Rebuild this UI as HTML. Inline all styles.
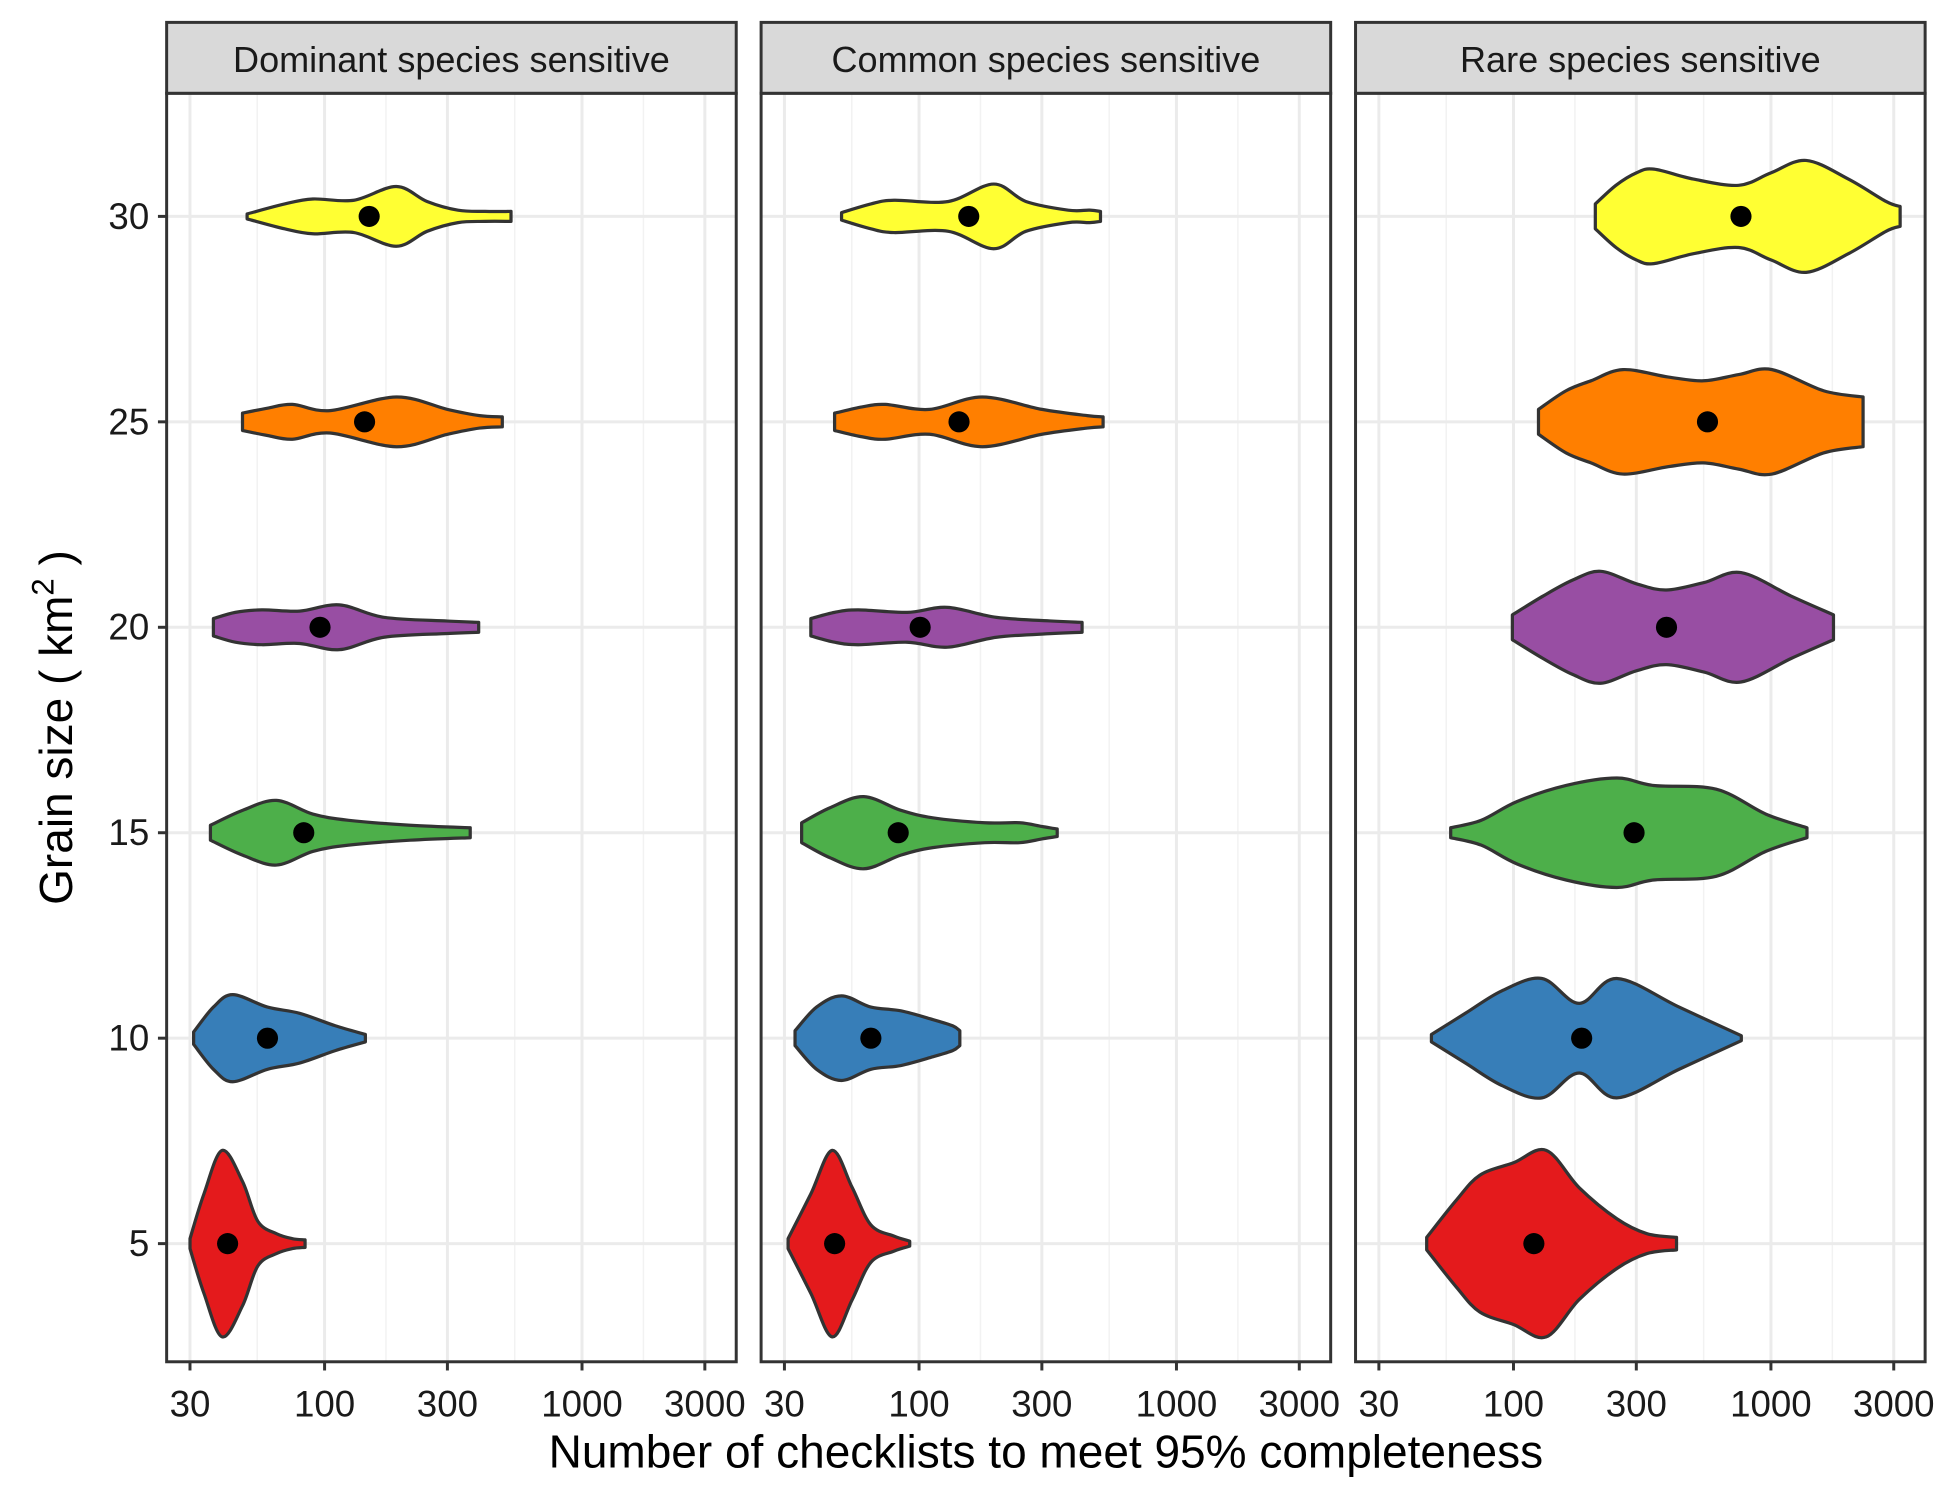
<!DOCTYPE html>
<html><head><meta charset="utf-8"><style>
html,body{margin:0;padding:0;background:#fff;}
svg{display:block;}
text{font-family:"Liberation Sans",Arial,sans-serif;}
</style></head><body>
<svg id="chart" width="1950" height="1500" viewBox="0 0 1568 1206.15" preserveAspectRatio="none" xmlns="http://www.w3.org/2000/svg">
<rect x="0" y="0" width="1568" height="1207" fill="#fff"/>
<g id="panels"></g>
<text x="841" y="1180" font-size="37" text-anchor="middle" fill="#000">Number of checklists to meet 95% completeness</text>
<text transform="translate(58,585) rotate(-90)" font-size="37" text-anchor="middle" fill="#000">Grain size ( km<tspan font-size="25" dy="-15">2</tspan><tspan dy="15"> )</tspan></text>
</svg>
<script>
const panelTitles = ["Dominant species sensitive","Common species sensitive","Rare species sensitive"];
const grains = [5,10,15,20,25,30];
const colors = ["#e41a1c","#377eb8","#4daf4a","#984ea3","#ff7f00","#ffff33"];
const xTicks = [30,100,300,1000,3000];
const yTicks = [5,10,15,20,25,30];
// violin profiles: [checklists, relative density] per grain (5..30)
const domProfiles = [
 [[30,4],[34,40],[40,75],[48,50],[55,18],[65,8],[75,4],[84,3]],
 [[31,5],[37,25],[44,35],[60,25],[80,20],[110,10],[144,3]],
 [[36,6],[48,18],[65,26],[90,15],[124,10],[215,6],[368,4]],
 [[37,7],[45,12],[57,14],[80,13],[114,18],[170,8],[300,5],[397,4]],
 [[48,7],[60,11],[75,14],[105,9],[190,20],[300,10],[400,5],[490,4]],
 [[50,2],[70,10],[90,14],[130,13],[190,24],[250,12],[330,5],[420,4],[530,4]]
];
const comProfiles = [
 [[31,4],[38,40],[46,75],[55,45],[65,15],[80,6],[92,2]],
 [[33,6],[40,25],[50,34],[65,25],[85,22],[113,15],[135,10],[144,6]],
 [[35,8],[45,20],[61,29],[85,18],[113,12],[180,8],[246,8],[300,5],[344,3]],
 [[38,7],[47,12],[58,14],[90,12],[129,16],[200,8],[330,5],[430,4]],
 [[47,7],[60,12],[74,14],[110,10],[176,20],[300,10],[450,5],[519,4]],
 [[50,3],[65,10],[80,13],[130,12],[195,26],[260,12],[380,5],[460,5],[507,4]]
];
const rareProfiles = [
 [[46,5],[60,35],[74,55],[100,65],[134,75],[180,45],[252,20],[330,8],[430,5]],
 [[48,3],[65,20],[90,38],[129,48],[180,28],[252,48],[440,25],[767,2]],
 [[57,4],[75,10],[103,25],[160,38],[252,44],[350,38],[613,35],[955,15],[1380,4]],
 [[99,10],[130,25],[170,38],[218,45],[300,35],[393,30],[550,36],[765,44],[1200,25],[1750,10]],
 [[125,10],[160,25],[200,33],[266,42],[400,36],[548,33],[750,38],[1010,42],[1600,25],[2280,20]],
 [[208,10],[250,25],[300,35],[351,38],[500,30],[750,25],[1000,35],[1370,45],[2000,30],[2800,12],[3175,8]]
];
const domMeans = [42,60,83,96,143,149];
const comMeans = [47,65,83,101,143,156];
const rareMeans = [120,184,294,393,567,765];

const profiles = [domProfiles, comProfiles, rareProfiles];
const means = [domMeans, comMeans, rareMeans];
const NS = "http://www.w3.org/2000/svg";
const panelsG = document.getElementById("panels");
const panelLeft = [134,612,1090], panelW = 458, plotTop = 75, plotBot = 1095;
const yScale = v => 1000 - (v - 5) * 33.04;
const densToPx = 1.0;
function mk(tag, attrs, parent){ const e=document.createElementNS(NS,tag); for(const k in attrs) e.setAttribute(k,attrs[k]); parent.appendChild(e); return e; }
function smoothPath(pts){
  let d = "";
  for(let i=0;i<pts.length-1;i++){
    const p0=pts[Math.max(i-1,0)], p1=pts[i], p2=pts[i+1], p3=pts[Math.min(i+2,pts.length-1)];
    const c1=[p1[0]+(p2[0]-p0[0])/6, p1[1]+(p2[1]-p0[1])/6];
    const c2=[p2[0]-(p3[0]-p1[0])/6, p2[1]-(p3[1]-p1[1])/6];
    d += ` C${c1[0].toFixed(1)},${c1[1].toFixed(1)} ${c2[0].toFixed(1)},${c2[1].toFixed(1)} ${p2[0].toFixed(1)},${p2[1].toFixed(1)}`;
  }
  return d;
}
panelTitles.forEach((title, p) => {
  const x0 = panelLeft[p];
  const xScale = v => x0 + 127 + Math.log10(v/100) * 207;
  const g = mk("g", {}, panelsG);
  
  
  mk("rect", {x:x0, y:plotTop, width:panelW, height:plotBot-plotTop, fill:"#fff"}, g);
  for (let i=0;i<xTicks.length-1;i++){
    const xm = xScale(Math.sqrt(xTicks[i]*xTicks[i+1]));
    mk("line",{x1:xm,x2:xm,y1:plotTop,y2:plotBot,stroke:"#f2f2f2","stroke-width":1.2},g);
  }
  xTicks.forEach(t => { const xx=xScale(t); mk("line",{x1:xx,x2:xx,y1:plotTop,y2:plotBot,stroke:"#ebebeb","stroke-width":2.4},g); });
  yTicks.forEach(t => { const yy=yScale(t); mk("line",{x1:x0,x2:x0+panelW,y1:yy,y2:yy,stroke:"#ebebeb","stroke-width":2.4},g); });
  profiles[p].forEach((prof, i) => {
    const yc = yScale(grains[i]);
    const top = prof.map(q => [xScale(q[0]), yc - q[1]*densToPx]);
    const bot = prof.slice().reverse().map(q => [xScale(q[0]), yc + q[1]*densToPx]);
    let d = `M${top[0][0].toFixed(1)},${yc.toFixed(1)} L${top[0][0].toFixed(1)},${top[0][1].toFixed(1)}` + smoothPath(top);
    d += ` L${bot[0][0].toFixed(1)},${bot[0][1].toFixed(1)}` + smoothPath(bot) + " Z";
    const v = mk("path",{d:d, fill:colors[i], stroke:"#333333","stroke-width":2.6,"stroke-linejoin":"round"},g);
    
    
    const c = mk("circle",{cx:xScale(means[p][i]), cy:yc, r:8.5, fill:"#000"},g);
    
    
  });
  mk("rect",{x:x0, y:plotTop, width:panelW, height:plotBot-plotTop, fill:"none", stroke:"#333333","stroke-width":2.4},g);
  const s = mk("rect",{x:x0, y:18, width:panelW, height:57, fill:"#d9d9d9", stroke:"#333333","stroke-width":2.4},g);
  
  
  const st = mk("text",{x:x0+panelW/2, y:58, "font-size":29, "text-anchor":"middle", fill:"#1a1a1a"},g);
  st.textContent = title;
  
  
  xTicks.forEach(t => {
    const xx=xScale(t);
    mk("line",{x1:xx,x2:xx,y1:plotBot,y2:plotBot+7,stroke:"#333","stroke-width":2.4},g);
    const tl = mk("text",{x:xx, y:1139, "font-size":29.5, "text-anchor":"middle", fill:"#1a1a1a"},g);
    tl.textContent = t;
    
    
  });
});
const yg = mk("g", {}, panelsG);
yTicks.forEach(t => {
  const yy=yScale(t);
  mk("line",{x1:127,x2:134,y1:yy,y2:yy,stroke:"#333","stroke-width":2.4},yg);
  const tl = mk("text",{x:120, y:yy+10, "font-size":29.5, "text-anchor":"end", fill:"#1a1a1a"},yg);
  tl.textContent = t;
  
  
});
</script>
</body></html>
